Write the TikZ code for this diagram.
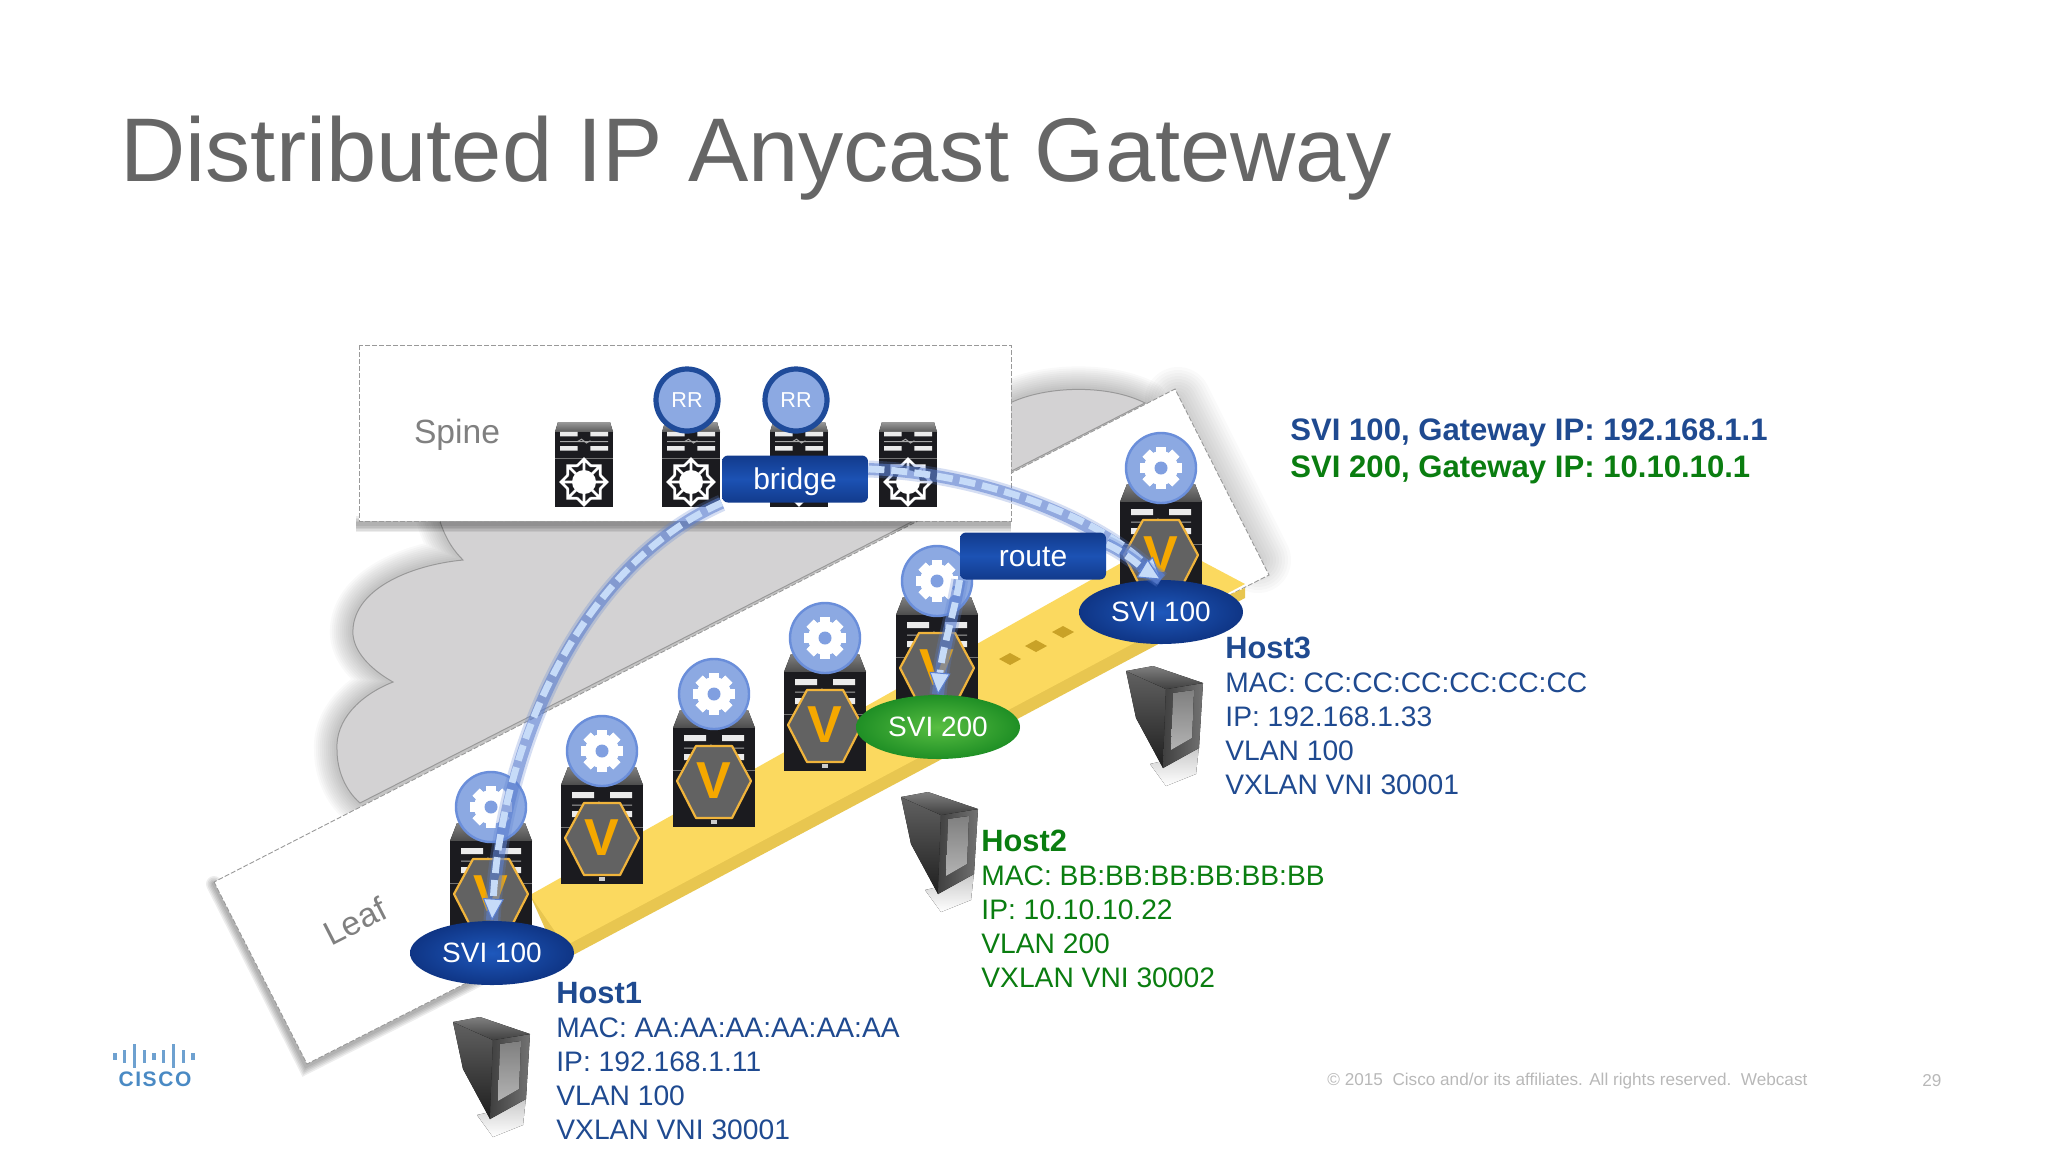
\documentclass[tikz,border=0pt]{standalone}
\usepackage{fontspec}
\setmainfont{Liberation Sans}
\usetikzlibrary{shapes.geometric,arrows.meta,calc}
\pgfdeclarelayer{top}
\pgfsetlayers{main,top}
\definecolor{titlegray}{HTML}{666666}
\definecolor{labelgray}{HTML}{808080}
\definecolor{navy}{HTML}{1F4A90}
\definecolor{hostgreen}{HTML}{0A7D10}
\definecolor{cloudgray}{HTML}{D3D2D3}
\definecolor{edgegray}{HTML}{999999}
\definecolor{bandtop}{HTML}{FBD95F}
\definecolor{bandside}{HTML}{E8C650}
\definecolor{banddot}{HTML}{C9A227}
\definecolor{gearfill}{HTML}{8CA9E2}
\definecolor{gearring}{HTML}{6A8EDA}
\definecolor{rrring}{HTML}{1F4B9A}
\definecolor{hexfill}{HTML}{626262}
\definecolor{hexedge}{HTML}{F0B43C}
\definecolor{vcolor}{HTML}{F5A800}
\definecolor{flowlight}{HTML}{C6DBF8}
\definecolor{flowglow}{HTML}{5B7FD0}
\definecolor{boxblue}{HTML}{1C52B4}
\definecolor{boxdark}{HTML}{123A8C}
\definecolor{foot}{HTML}{B8B8B8}
\definecolor{logoblue}{HTML}{4A8AC4}
\definecolor{swblack}{HTML}{1B1B1F}
\definecolor{sviin}{HTML}{1E58BC}
\definecolor{sviout}{HTML}{0F3585}
\definecolor{greenin}{HTML}{58BE42}
\definecolor{greenout}{HTML}{1F8F25}
\tikzset{
  titletext/.style={anchor=base west,inner sep=0pt,text=titlegray,font=\fontsize{45.2pt}{50pt}\selectfont},
  tierlabel/.style={inner sep=0pt,text=labelgray,font=\fontsize{16.8pt}{20pt}\selectfont},
  hosttext/.style={anchor=north west,inner sep=0pt,align=left,font=\fontsize{14.1pt}{17pt}\selectfont},
  gwtext/.style={anchor=west,inner sep=0pt,font=\bfseries\fontsize{15.55pt}{18pt}\selectfont},
  gearnode/.style={circle,minimum size=35pt,inner sep=0pt,fill=gearfill,draw=gearring,line width=1.2pt},
  rrnode/.style={circle,minimum size=31pt,inner sep=0pt,fill=gearfill,draw=rrring,line width=2.6pt,text=white,font=\fontsize{10.8pt}{12pt}\selectfont},
  boxnode/.style={rectangle,rounded corners=3pt,minimum width=73pt,minimum height=23.5pt,inner sep=0pt,
     text height=10.4pt,text depth=0pt,
     top color=boxdark,bottom color=boxdark,middle color=boxblue,text=white,font=\fontsize{15pt}{18pt}\selectfont},
  svinode/.style={ellipse,minimum width=82pt,minimum height=32pt,inner sep=0pt,text=white,font=\fontsize{14pt}{17pt}\selectfont},
  svibluenode/.style={svinode,inner color=sviin,outer color=sviout},
  svigreennode/.style={svinode,inner color=greenin,outer color=greenout},
  hexnode/.style={fill=hexfill,draw=hexedge,line width=1.1pt,line join=round},
  vtext/.style={inner sep=0pt,text=vcolor,font=\bfseries\fontsize{26pt}{28pt}\selectfont},
  flowglowa/.style={draw=flowglow,line width=8.5pt,opacity=.25},
  flowglowb/.style={draw=flowglow,line width=6pt,opacity=.55},
  flowdash/.style={draw=flowlight,line width=3.4pt,dash pattern=on 8pt off 3.5pt,
     -{Triangle[length=11pt,width=10.5pt,color=flowglow,fill=flowlight,line width=.5pt]}},
  footer/.style={inner sep=0pt,text=foot,font=\fontsize{8.58pt}{11pt}\selectfont},
  fine/.style={draw=edgegray,line width=.45pt,dash pattern=on 2.5pt off 1pt},
}
\newcommand{\gearglyph}{%
  \foreach \a in {0,45,...,315}{\fill[white,rotate=\a] (-5,-21) rectangle (5,21);}
  \fill[white] (0,0) circle[radius=17];
  \fill[gearring!85!white] (0,0) circle[radius=6.5];}
\newcommand{\bars}{%
  \fill[white!92!black] (-30,9) rectangle (-8,15) (8,9) rectangle (30,15)
     (-30,28) rectangle (-8,34) (8,28) rectangle (30,34);
  \draw[gray!70,line width=.5pt] (-8,22) -- (-3,19) -- (3,24) -- (8,21) (-30,22) -- (30,22);}
\newcommand{\leafswitch}[3]{%
  \begin{scope}[shift={(#2,#3)}]
    \fill[top color=black!50,bottom color=black!70] (-34,16) -- (34,16) -- (41,34) -- (-41,34) -- cycle;
    \fill[swblack] (-41,34) rectangle (41,133);
    \begin{scope}[shift={(0,32)}]\bars\end{scope}
    \draw[black!55,line width=.5pt] (-41,76) -- (41,76);
    \fill[white!80!black] (-3,126) rectangle (3,130);
    \path[hexnode] (-37,87) -- (-18,52) -- (18,52) -- (37,87) -- (18,124) -- (-18,124) -- cycle;
    \node[vtext] (v#1) at (0,87) {V};
    \node[gearnode] (gear#1) at (0,0) {};
    \gearglyph
  \end{scope}}
\newcommand{\spineswitch}[2]{%
  \begin{scope}[shift={(#2,422)}]
    \fill[top color=black!40,bottom color=black!65] (-26,0) -- (26,0) -- (29,10) -- (-29,10) -- cycle;
    \fill[swblack] (-29,10) rectangle (29,85);
    \begin{scope}[shift={(0,3)},yscale=.75,xscale=.8]\bars\end{scope}
    \draw[black!55,line width=.4pt] (-29,36) -- (29,36);
    \begin{scope}[shift={(0,60)}]
      \foreach \a in {0,45,...,315}{
        \draw[white,line width=1.3pt,rotate=\a] (0,0) -- (0,-23) (-7,-16) -- (0,-23) -- (7,-16);}
      \fill[white] (0,0) circle[radius=12];
    \end{scope}
  \end{scope}}
\newcommand{\serverbox}[2]{%
  \begin{scope}[shift={(#1,#2)}]
    \fill[top color=black!22,bottom color=white] (37,95) -- (73,80) -- (70,108) -- (40,120) -- (24,98) -- cycle;
    \fill[top color=black!62,bottom color=black!88] (0,5) -- (40,23) -- (37,102) -- (10,52) -- cycle;
    \fill[left color=black!75,right color=black!55] (40,23) -- (77,17) -- (73,82) -- (37,102) -- cycle;
    \fill[top color=black!50,bottom color=black!30] (47,27) -- (68,24) -- (66,72) -- (45,84) -- cycle;
    \fill[top color=black!50,bottom color=black!75] (0,5) -- (27,0) -- (77,17) -- (40,23) -- cycle;
  \end{scope}}
\newcommand{\flow}[1]{%
  \draw[flowglowa] #1;
  \draw[flowglowb] #1;
  \draw[flowdash] #1;}
\begin{document}
\begin{tikzpicture}[x=.5pt,y=-.5pt]
\useasboundingbox (0,0) rectangle (2048,1152);
\node[titletext] (title) at (120,181) {Distributed IP Anycast Gateway};
% cloud
\def\cloudpath{(438,515) .. controls (445,540) and (455,552) .. (463,560)
  .. controls (410,565) and (350,590) .. (353,635)
  .. controls (355,655) and (375,672) .. (393,682)
  .. controls (360,695) and (335,720) .. (337,750)
  .. controls (337,770) and (345,790) .. (360,803)
  -- (1145,403)
  .. controls (1110,385) and (1050,385) .. (1012,402) -- cycle}
\foreach \w in {23,21,...,3}{\draw[black,opacity=.022,line width=\w pt,line join=round] \cloudpath;}
\fill[cloudgray] \cloudpath;
\draw[edgegray,line width=.5pt] \cloudpath;
% leaf plane
\foreach \w in {33,30,...,3}{\draw[black,opacity=.018,line width=\w pt,line cap=round] (1178,400) -- (1258,560);}
\foreach \w in {8,6.5,5,3.5,2}{\draw[black,opacity=.07,line width=\w pt,line cap=round] (214,884) -- (306,1066) -- (760,836);}
\fill[white] (214,882) -- (307,1064) -- (1269,575) -- (1175,389) -- cycle;
\draw[fine] (214,882) -- (307,1064) -- (1269,575) -- (1175,389) -- cycle;
\node[tierlabel,rotate=27] (leaflabel) at (355,921) {Leaf};
% band
\fill[bandside] (530,895) -- (1245,588) -- (1245,598) -- (560,962) -- cycle;
\fill[bandtop] (530,895) -- (1162,540) -- (1245,584) -- (565,946) -- cycle;
\foreach \x/\y in {1010/659,1036/646,1063/632}{\fill[banddot] (\x-11,\y) -- (\x,\y-6) -- (\x+11,\y) -- (\x,\y+6) -- cycle;}
% spine plane
\foreach \w in {8,6.5,5,3.5,2}{\draw[black,opacity=.07,line width=\w pt] (356,524) -- (1011,524);}
\fill[white] (359,345) rectangle (1011,521);
\draw[fine] (359,345) rectangle (1011,521);
\node[tierlabel] (spinelabel) at (457,435) {Spine};
% spine switches
\spineswitch{a}{584}
\spineswitch{b}{691}
\spineswitch{c}{799}
\spineswitch{d}{908}
\node[rrnode] (rr1) at (687,400) {RR};
\node[rrnode] (rr2) at (796,400) {RR};
% leaf switches
\leafswitch{1}{491}{807}
\leafswitch{2}{602}{751}
\leafswitch{3}{714}{694}
\leafswitch{4}{825}{638}
\leafswitch{5}{937}{581}
\leafswitch{6}{1161}{468}
% SVI
\node[svibluenode] (svi1) at (492,953) {SVI 100};
\node[svigreennode] (svi2) at (938,727) {SVI 200};
\node[svibluenode] (svi3) at (1161,612) {SVI 100};
% boxes over the flows
\begin{pgfonlayer}{top}
\node[boxnode] (bridge) at (795,479) {bridge};
\node[boxnode] (route) at (1033,556) {route};
\end{pgfonlayer}
% flows
\flow{(bridge.south west) .. controls (588,562) and (503,731) .. (svi1.north)}
\flow{($(bridge.east)+(0,-10)$) .. controls (980,473) and (1097,516) .. (svi3.north)}
\flow{($(route.east)+(0,-12)$) .. controls (1125,552) and (1145,570) .. (svi3.north)}
\flow{(route.south west) .. controls (955,610) and (942,650) .. (svi2.north)}
% servers
\serverbox{453}{1017}
\serverbox{901}{792}
\serverbox{1126}{666}
% host texts
\node[hosttext,text=navy] (host1) at (556,982) {{\bfseries\fontsize{15.4pt}{17pt}\selectfont Host1}\\MAC: AA:AA:AA:AA:AA:AA\\IP: 192.168.1.11\\VLAN 100\\VXLAN VNI 30001};
\node[hosttext,text=hostgreen] (host2) at (981,830) {{\bfseries\fontsize{15.4pt}{17pt}\selectfont Host2}\\MAC: BB:BB:BB:BB:BB:BB\\IP: 10.10.10.22\\VLAN 200\\VXLAN VNI 30002};
\node[hosttext,text=navy] (host3) at (1225,637) {{\bfseries\fontsize{15.4pt}{17pt}\selectfont Host3}\\MAC: CC:CC:CC:CC:CC:CC\\IP: 192.168.1.33\\VLAN 100\\VXLAN VNI 30001};
\node[gwtext,text=navy] (gw1) at (1290,433) {SVI 100, Gateway IP: 192.168.1.1};
\node[gwtext,text=hostgreen] (gw2) at (1290,470) {SVI 200, Gateway IP: 10.10.10.1};
% logo
\foreach \i/\h in {0/7,1/13,2/24,3/13,4/7,5/13,6/24,7/13,8/7}{
  \fill[logoblue!80!white] ({115+\i*9.75-1.7},{1056-\h/2}) rectangle ({115+\i*9.75+1.7},{1056+\h/2});}
\node[inner sep=0pt,text=logoblue,font=\bfseries\fontsize{10.5pt}{12pt}\selectfont] (logo) at (155,1079) {C\kern.8pt I\kern.8pt S\kern.8pt C\kern.8pt O};
% footer
\node[footer,anchor=west] (copy) at (1327,1081) {© 2015\ \ Cisco and/or its affiliates. All rights reserved.\ \ Webcast};
\node[footer,anchor=west] (pageno) at (1922,1081) {29};
\end{tikzpicture}
\end{document}
